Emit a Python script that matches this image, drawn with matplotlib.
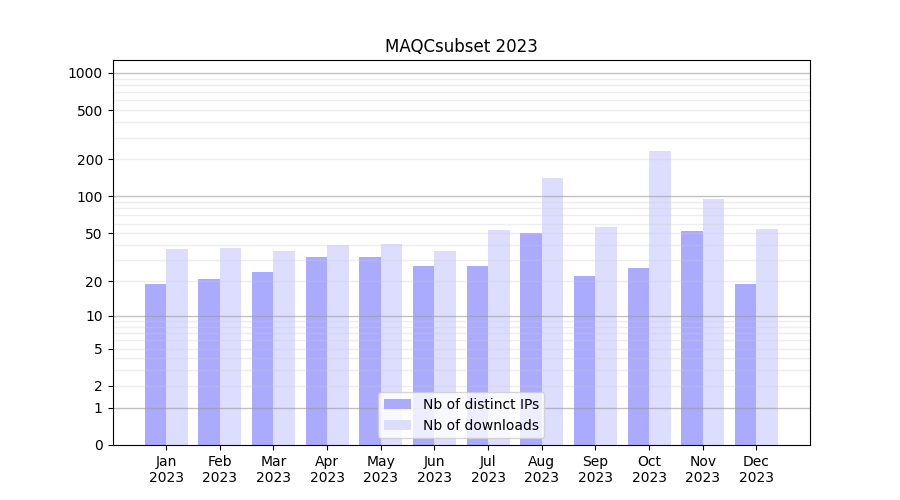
import numpy as np
import matplotlib.pyplot as plt

# --- Данни ---
months = ["Jan", "Feb", "Mar", "Apr", "May", "Jun",
          "Jul", "Aug", "Sep", "Oct", "Nov", "Dec"]
year = "2023"
distinct_ips = [19, 21, 24, 32, 32, 27, 27, 50, 22, 26, 52, 19]
downloads = [37, 38, 36, 40, 41, 36, 53, 141, 56, 234, 95, 54]

ytick_values = [0, 1, 2, 5, 10, 20, 50, 100, 200, 500, 1000]
major_grid = [1, 10, 100, 1000]
minor_grid = [2, 3, 4, 5, 6, 7, 8, 9,
              20, 30, 40, 50, 60, 70, 80, 90,
              200, 300, 400, 500, 600, 700, 800, 900]


def fwd(y):
    return np.log10(1 + np.clip(y, 0, None))


def inv(y):
    return 10 ** y - 1


# --- Графика ---
fig, ax = plt.subplots(figsize=(9, 5), dpi=100)
ax.set_yscale("function", functions=(fwd, inv))

x = np.arange(len(months))
w = 0.4
ax.bar(x - w / 2, distinct_ips, width=w, color="#aaaaff", label="Nb of distinct IPs", zorder=1)
ax.bar(x + w / 2, downloads, width=w, color="#ddddff", label="Nb of downloads", zorder=1)

x0, x1 = -1, 12
ax.hlines(minor_grid, x0, x1, colors="#cccccc", alpha=0.35, linewidth=1, zorder=2)
ax.hlines(major_grid, x0, x1, colors="#999999", alpha=0.6, linewidth=1, zorder=2)

ax.set_xlim(x0, x1)
ax.set_ylim(0, inv(3.105))
ax.set_yticks(ytick_values)
ax.set_yticklabels([str(v) for v in ytick_values])
ax.yaxis.set_minor_locator(plt.NullLocator())
ax.set_xticks(x)
ax.set_xticklabels([f"{m}\n{year}" for m in months])

ax.set_title("MAQCsubset 2023")
ax.legend(loc="lower center")
fig.savefig("out.png")
